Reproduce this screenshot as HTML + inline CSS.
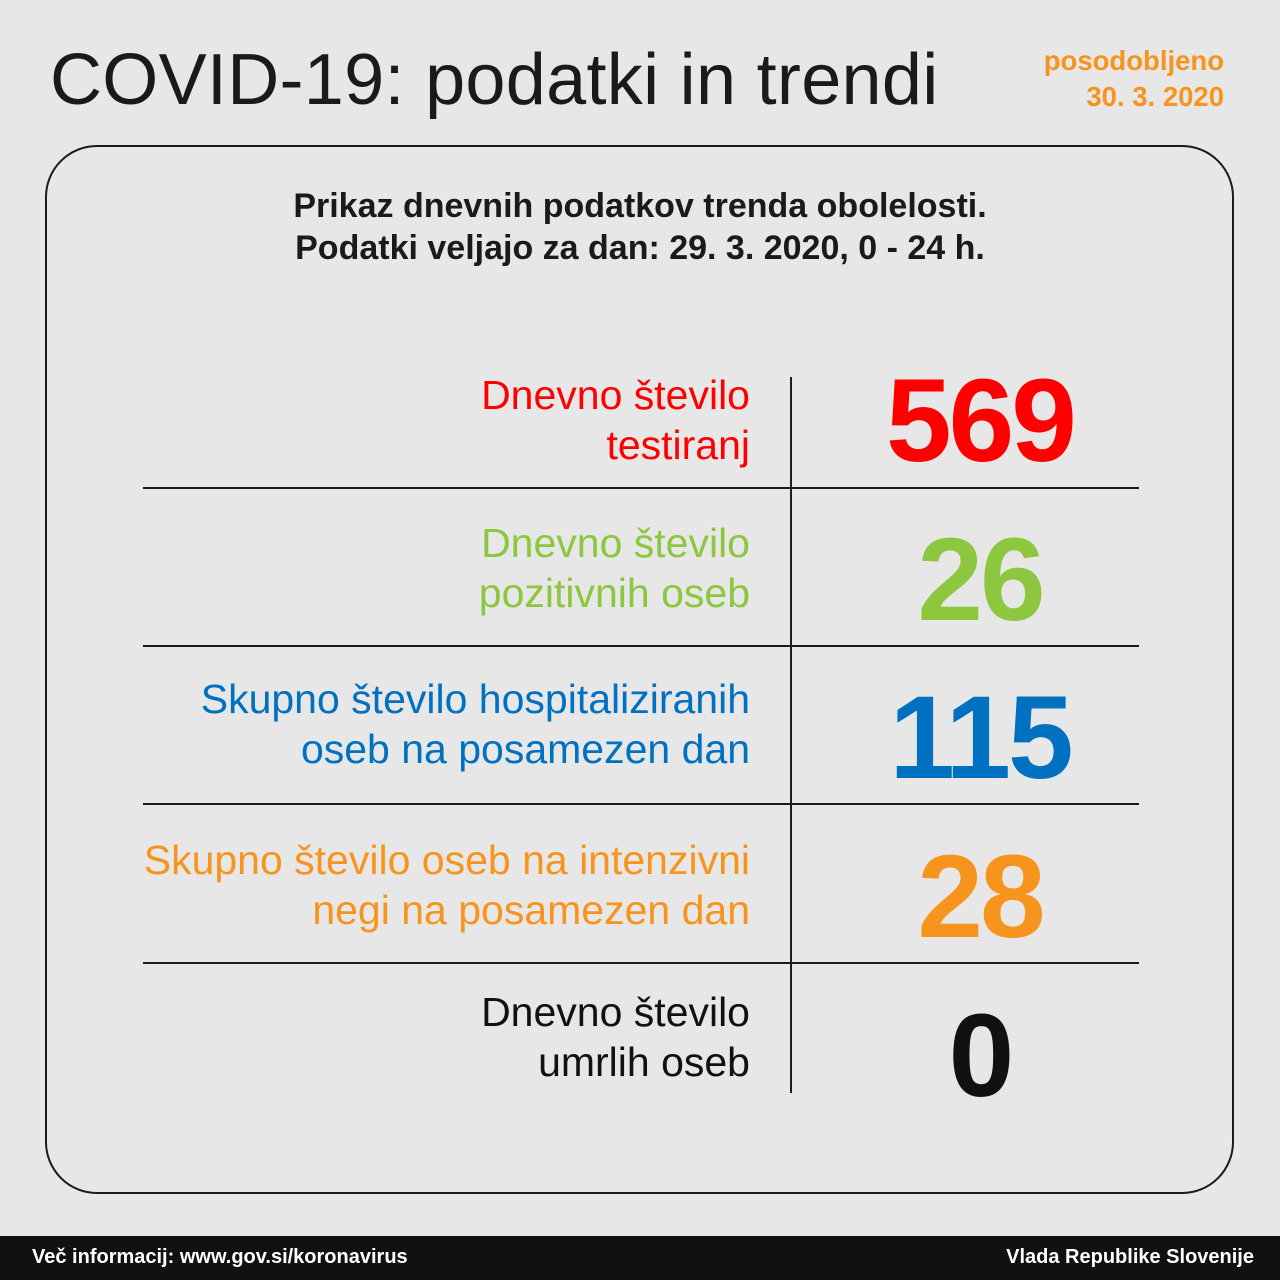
<!DOCTYPE html>
<html><head><meta charset="utf-8"><style>
*{margin:0;padding:0;box-sizing:border-box}
body{width:1280px;height:1280px;background:#e7e7e7;position:relative;overflow:hidden;font-family:"Liberation Sans","DejaVu Sans",sans-serif;color:#1a1a1a}
.t{position:absolute;white-space:nowrap}
.box{position:absolute;left:45px;top:145px;width:1189px;height:1049px;border:2px solid #1a1a1a;border-radius:52px}
.lab{position:absolute;right:530px;text-align:right;font-size:41px;line-height:50px}
.num{position:absolute;left:792px;width:376px;text-align:center;font-weight:bold;font-size:118px;line-height:118px;letter-spacing:-3px}
.h{position:absolute;left:143px;width:996px;height:2px;background:#1a1a1a}
</style></head><body>
<div class="t" style="left:50px;top:35px;font-size:72px;line-height:90px;letter-spacing:0.3px">COVID-19: podatki in trendi</div>
<div class="t" style="right:56px;top:43px;font-size:27.5px;line-height:36px;color:#f7941d;font-weight:bold;text-align:right">posodobljeno<br>30. 3. 2020</div>
<div class="box"></div>
<div class="t" style="left:0;width:1280px;top:185px;text-align:center;font-size:34px;line-height:42px;font-weight:bold">Prikaz dnevnih podatkov trenda obolelosti.<br>Podatki veljajo za dan: 29. 3. 2020, 0 - 24 h.</div>
<div style="position:absolute;left:790px;top:377px;width:2px;height:716px;background:#1a1a1a"></div>
<div class="h" style="top:487px"></div>
<div class="h" style="top:645px"></div>
<div class="h" style="top:803px"></div>
<div class="h" style="top:962px"></div>
<div class="lab" style="top:370px;color:#f00">Dnevno število<br>testiranj</div>
<div class="num" style="top:362px;color:#f00">569</div>
<div class="lab" style="top:518px;color:#8dc63f">Dnevno število<br>pozitivnih oseb</div>
<div class="num" style="top:521px;color:#8dc63f">26</div>
<div class="lab" style="top:674px;color:#0070c0">Skupno število hospitaliziranih<br>oseb na posamezen dan</div>
<div class="num" style="top:679px;color:#0070c0">115</div>
<div class="lab" style="top:835px;color:#f7941d">Skupno število oseb na intenzivni<br>negi na posamezen dan</div>
<div class="num" style="top:838px;color:#f7941d">28</div>
<div class="lab" style="top:987px;color:#111">Dnevno število<br>umrlih oseb</div>
<div class="num" style="top:997px;color:#111">0</div>
<div style="position:absolute;left:0;top:1236px;width:1280px;height:44px;background:#111"></div>
<div class="t" style="left:32px;top:1243px;font-size:20px;line-height:28px;color:#fff;font-weight:bold">Več informacij: www.gov.si/koronavirus</div>
<div class="t" style="right:26px;top:1243px;font-size:20px;line-height:28px;color:#fff;font-weight:bold">Vlada Republike Slovenije</div>
</body></html>
